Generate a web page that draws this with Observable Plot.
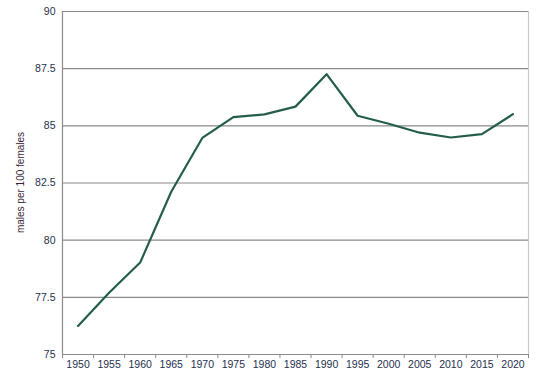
<!DOCTYPE html>
<html>
<head>
<meta charset="utf-8">
<script src="https://cdn.jsdelivr.net/npm/d3@7"></script>
<script src="https://cdn.jsdelivr.net/npm/@observablehq/plot@0.6"></script>
<style>
  html, body { margin: 0; padding: 0; background: #fff; }
  #chart { width: 542px; height: 381px; }
</style>
</head>
<body>
<div id="chart"></div>
<script>
const years = [1950, 1955, 1960, 1965, 1970, 1975, 1980, 1985, 1990, 1995, 2000, 2005, 2010, 2015, 2020];
const ratio = [76.25, 77.7, 79.02, 82.12, 84.47, 85.38, 85.5, 85.84, 87.26, 85.44, 85.09, 84.7, 84.49, 84.64, 85.51];
const yTicks = [75, 77.5, 80, 82.5, 85, 87.5, 90];
const yLabel = "males per 100 females";

const data = years.map((y, i) => ({year: y, value: ratio[i]}));
const half = (years[1] - years[0]) / 2;
const bounds = [years[0] - half, ...years.map(y => y + half)];

const font = "'Liberation Sans', Arial, sans-serif";
const chart = Plot.plot({
  width: 542,
  height: 381,
  marginLeft: 62,
  marginRight: 14,
  marginTop: 11,
  marginBottom: 27,
  style: {fontFamily: font, fontSize: "10.5px", color: "#25304d", background: "#fff"},
  x: {domain: [bounds[0], bounds[bounds.length - 1]]},
  y: {domain: [75, 90]},
  marks: [
    Plot.ruleY(yTicks, {stroke: "#8a8a8a", strokeWidth: 1.2}),
    Plot.ruleX([bounds[bounds.length - 1]], {stroke: "#c8c8c8", strokeWidth: 1.2}),
    Plot.ruleX([bounds[0]], {stroke: "#8a8a8a", strokeWidth: 1.2}),
    Plot.axisY({ticks: yTicks, tickSize: 0, tickPadding: 7, label: null, tickFormat: d => String(d), fill: "#25304d"}),
    Plot.axisX({ticks: years, tickSize: 0, tickPadding: 6, label: null, tickFormat: d => String(d), fill: "#25304d"}),
    Plot.axisX({ticks: bounds, tickSize: 4, tickFormat: () => "", label: null, stroke: "#8a8a8a"}),
    Plot.line(data, {x: "year", y: "value", stroke: "#245e4b", strokeWidth: 2.2})
  ]
});
// y-axis title as real text
const svg = d3.select(chart);
svg.append("text")
  .attr("transform", "translate(21,182.5) rotate(-90)")
  .attr("text-anchor", "middle")
  .attr("dominant-baseline", "middle")
  .attr("font-family", font)
  .attr("font-size", "10px")
  .attr("fill", "#3a1f35")
  .text(yLabel);
document.getElementById("chart").appendChild(chart);
</script>
</body>
</html>
